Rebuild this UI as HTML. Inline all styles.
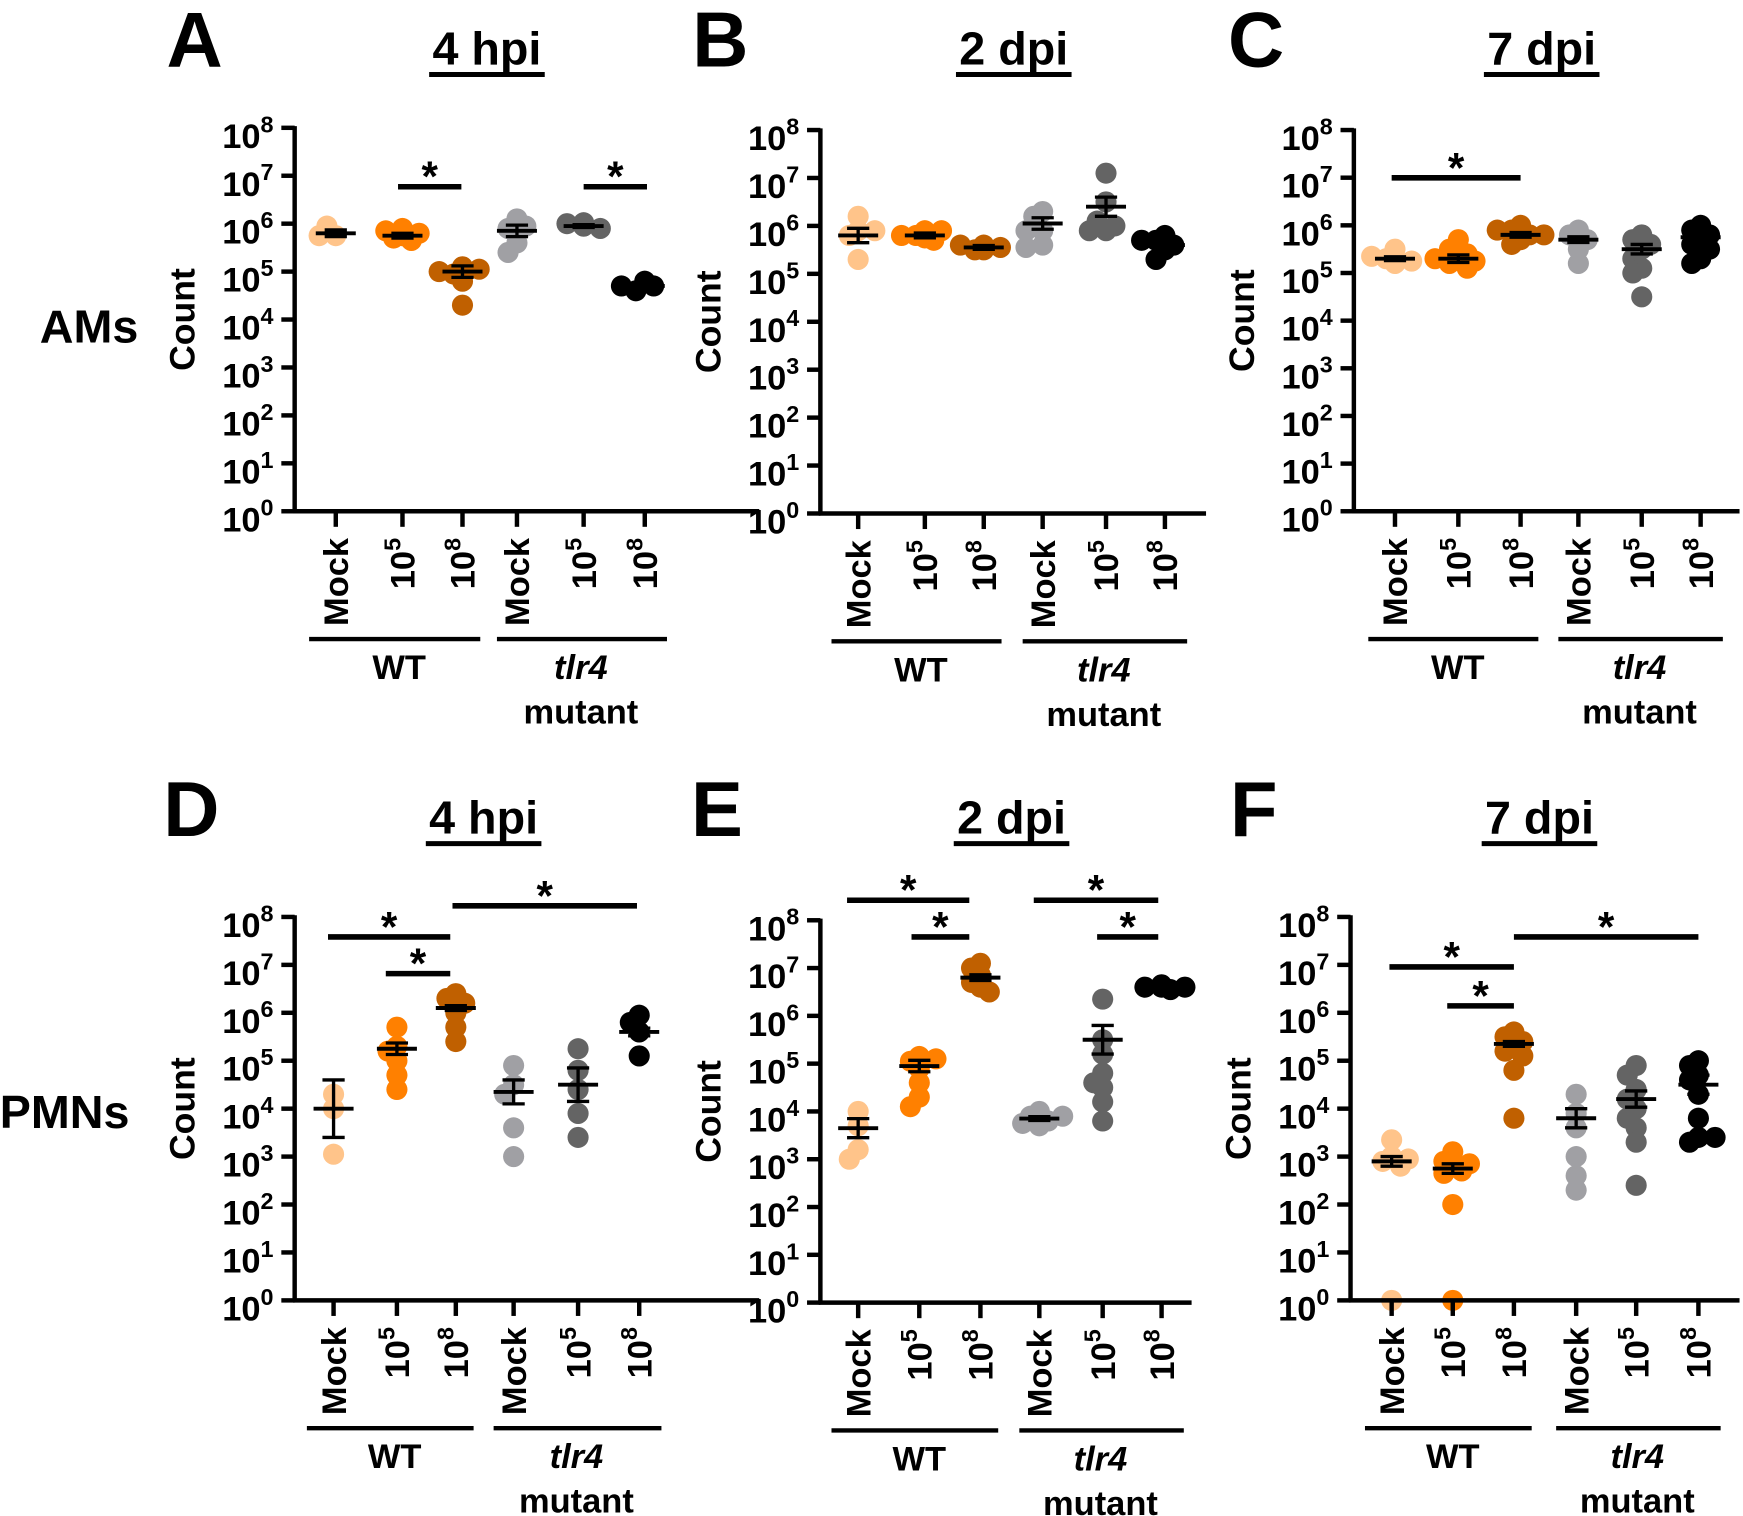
<!DOCTYPE html>
<html><head><meta charset="utf-8">
<style>
html,body{margin:0;padding:0;background:#fff;}
svg{display:block;}
text{font-family:"Liberation Sans",Arial,sans-serif;font-weight:bold;fill:#000;}
</style></head>
<body>
<svg id="s" width="1743" height="1516" viewBox="0 0 1568 1364" xmlns="http://www.w3.org/2000/svg">
<g id="g"></g>
</svg>
<script>
const NS="http://www.w3.org/2000/svg";
const G=document.getElementById('g');
function el(t,a,txt,par){const e=document.createElementNS(NS,t);for(const k in a)e.setAttribute(k,a[k]);if(txt!==undefined)e.textContent=txt;(par||G).appendChild(e);return e;}
function line(x1,y1,x2,y2,w){el('line',{x1,y1,x2,y2,stroke:'#000','stroke-width':w||3.5});}
function pow(attrs,base,exp,fs,efs,dy){const t=el('text',attrs);el('tspan',{},base,t);el('tspan',{dy:-dy,'font-size':efs},exp,t);return t;}
const COL=['#FFC48A','#FF8000','#C06000','#A0A0A4','#646464','#000000'];
function panel(p){
 const x0=p.x0,yT=p.yT,yB=p.yB,st=(yB-yT)/8,Y=v=>yB-v*st;
 p.d.forEach((c,i)=>{
  const cx=p.cats[i];
  const placed=[];
  c.p.forEach(v=>{
   const y=Y(v);let best=0;
   const cand=[0,-8,8,-15,15,-21,21];
   for(const dx of cand){let ok=true;for(const q of placed){if(Math.hypot(q[0]-dx,q[1]-y)<9){ok=false;break;}}if(ok){best=dx;break;}}
   placed.push([best,y]);
  });
  placed.forEach(q=>el('circle',{cx:cx+q[0],cy:q[1],r:9.5,fill:COL[i]}));
  const m=Y(c.m),hi=Y(c.m+c.s),lo=Y(Math.max(0,c.m-c.s));
  line(cx-18,m,cx+18,m,3.5);line(cx,hi,cx,lo,3);line(cx-10,hi,cx+10,hi,3);line(cx-10,lo,cx+10,lo,3);
 });
 line(x0,yT-1.5,x0,yB+1.5,4);line(x0-1.5,yB,p.xE,yB,4);
 for(let k=0;k<=8;k++){const y=Y(k);line(x0-12,y,x0,y,4);
  pow({x:x0-19,y:y+18,'font-size':31,'text-anchor':'end'},'10',String(k),31,21,14);}
 el('text',{transform:`translate(${x0-90},${(yT+yB)/2}) rotate(-90)`,'font-size':32,'text-anchor':'middle'},'Count');
 const ex=['','5','8','','5','8'];
 p.cats.forEach((cx,i)=>{line(cx,yB,cx,yB+14,4);
  const ly=yB+24;
  if(!ex[i]){el('text',{transform:`translate(${cx+11},${ly}) rotate(-90)`,'font-size':31,'text-anchor':'end'},'Mock');}
  else{pow({transform:`translate(${cx+11},${ly}) rotate(-90)`,'font-size':31,'text-anchor':'end'},'10',ex[i],31,21,13);}
 });
 const gy=yB+115;
 line(p.cats[0]-24,gy,p.cats[2]+16,gy,4);line(p.cats[3]-18,gy,p.cats[5]+20,gy,4);
 const wc=(p.cats[0]+p.cats[2])/2,tc=(p.cats[3]+p.cats[5])/2;
 el('text',{x:wc,y:gy+36,'font-size':31,'text-anchor':'middle'},'WT');
 el('text',{x:tc,y:gy+36,'font-size':31,'text-anchor':'middle','font-style':'italic'},'tlr4');
 el('text',{x:tc,y:gy+76,'font-size':31,'text-anchor':'middle'},'mutant');
 p.sig.forEach(s=>{line(s[0],s[2],s[1],s[2],5);el('text',{x:(s[0]+s[1])/2,y:s[2]+4,'font-size':38,'text-anchor':'middle'},'*');});
 el('text',{x:p.tx,y:p.ty,'font-size':42,'text-anchor':'middle'},p.t);
 line(p.tx-52,p.ty+9,p.tx+52,p.ty+9,4.5);
 el('text',{x:p.lx,y:p.ty+2,'font-size':70,'text-anchor':'middle'},p.L);
}
function D(m,s,p){return {m,s,p};}
const P=[
{L:'A',lx:175,t:'4 hpi',tx:438,ty:58,x0:265,yT:115,yB:460,xE:683,cats:[302,362,416,465,525,580],
 d:[D(5.8,0.07,[5.75,5.95,5.75]),D(5.75,0.05,[5.9,5.85,5.7,5.65,5.8,5.75]),D(5.0,0.12,[5.1,4.95,5.05,4.8,4.3,5.0]),
    D(5.85,0.12,[6.1,5.9,5.95,5.6,5.4]),D(5.95,0.03,[5.95,6.0,5.9,5.95,6.02]),D(4.7,0.05,[4.8,4.6,4.7,4.7])],
 sig:[[358,415,168],[525,582,168]]},
{L:'B',lx:648,t:'2 dpi',tx:912,ty:58,x0:738,yT:117,yB:462,xE:1085,cats:[772,832,885,938,995,1048],
 d:[D(5.8,0.15,[6.2,5.9,5.8,5.3,5.9]),D(5.8,0.05,[5.9,5.8,5.7,5.8,5.9,5.75]),D(5.55,0.04,[5.6,5.5,5.55,5.6,5.5]),
    D(6.05,0.12,[6.3,6.2,5.9,5.6,5.55,5.9]),D(6.4,0.2,[7.1,6.5,5.9,5.9,6.0,6.1]),D(5.6,0.06,[5.8,5.7,5.5,5.3,5.6,5.7])],
 sig:[]},
{L:'C',lx:1130,t:'7 dpi',tx:1387,ty:58,x0:1218,yT:117,yB:460,xE:1565,cats:[1255,1312,1368,1420,1477,1530],
 d:[D(5.3,0.04,[5.5,5.2,5.3,5.25,5.35]),D(5.3,0.08,[5.7,5.5,5.3,5.2,5.1,5.4,5.3,5.25]),D(5.8,0.05,[6.0,5.9,5.8,5.7,5.6,5.9,5.8]),
    D(5.7,0.06,[5.9,5.8,5.7,5.5,5.2]),D(5.5,0.1,[5.8,5.7,5.6,5.5,5.3,5.1,5.0,4.5]),D(5.75,0.08,[6.0,5.9,5.8,5.7,5.6,5.5,5.3,5.2])],
 sig:[[1252,1368,160]]},
{L:'D',lx:172,t:'4 hpi',tx:435,ty:750,x0:265,yT:825,yB:1170,xE:683,cats:[300,357,410,462,520,575],
 d:[D(4.0,0.6,[4.3,4.0,3.05]),D(5.25,0.12,[5.7,5.3,5.2,5.0,4.7,4.4]),D(6.1,0.05,[6.4,6.3,6.2,6.0,5.7,5.4]),
    D(4.35,0.25,[4.9,4.5,4.3,3.6,3.0]),D(4.5,0.35,[5.25,4.8,4.4,3.9,3.4]),D(5.6,0.08,[5.95,5.8,5.6,5.1])],
 sig:[[295,405,843],[347,405,876],[407,573,815]]},
{L:'E',lx:645,t:'2 dpi',tx:910,ty:750,x0:738,yT:828,yB:1172,xE:1072,cats:[772,827,882,935,992,1045],
 d:[D(3.65,0.2,[4.0,3.7,3.2,3.0]),D(4.95,0.12,[5.15,5.05,4.9,4.6,4.3,4.1,5.1]),D(6.8,0.06,[7.1,7.0,6.85,6.7,6.6,6.5]),
    D(3.85,0.04,[4.0,3.9,3.8,3.75,3.9,3.7]),D(5.5,0.3,[6.35,5.5,5.2,4.8,4.6,4.5,4.2,3.8]),D(6.6,0.03,[6.65,6.6,6.55,6.6,6.6])],
 sig:[[762,872,810],[820,872,843],[930,1042,810],[987,1042,843]]},
{L:'F',lx:1128,t:'7 dpi',tx:1385,ty:750,x0:1215,yT:825,yB:1170,xE:1565,cats:[1252,1307,1362,1418,1472,1528],
 d:[D(2.9,0.1,[3.35,3.0,2.9,2.8,2.95,0]),D(2.75,0.1,[3.1,2.9,2.8,2.7,2.85,2.65,2.0,0]),D(5.35,0.05,[5.6,5.5,5.4,5.3,5.2,5.1,4.8,3.8]),
    D(3.8,0.2,[4.3,3.9,3.6,3.0,2.6,2.3]),D(4.2,0.17,[4.9,4.7,4.4,4.2,4.0,3.8,3.6,3.3,2.4]),D(4.5,0.2,[5.0,4.9,4.7,4.6,4.3,3.8,3.4,3.3,3.4])],
 sig:[[1250,1362,870],[1302,1362,905],[1362,1528,843]]}
];
P.forEach(panel);
el('text',{x:80,y:308,'font-size':42,'text-anchor':'middle'},'AMs');
el('text',{x:58,y:1015,'font-size':42,'text-anchor':'middle'},'PMNs');
</script>
</body></html>
